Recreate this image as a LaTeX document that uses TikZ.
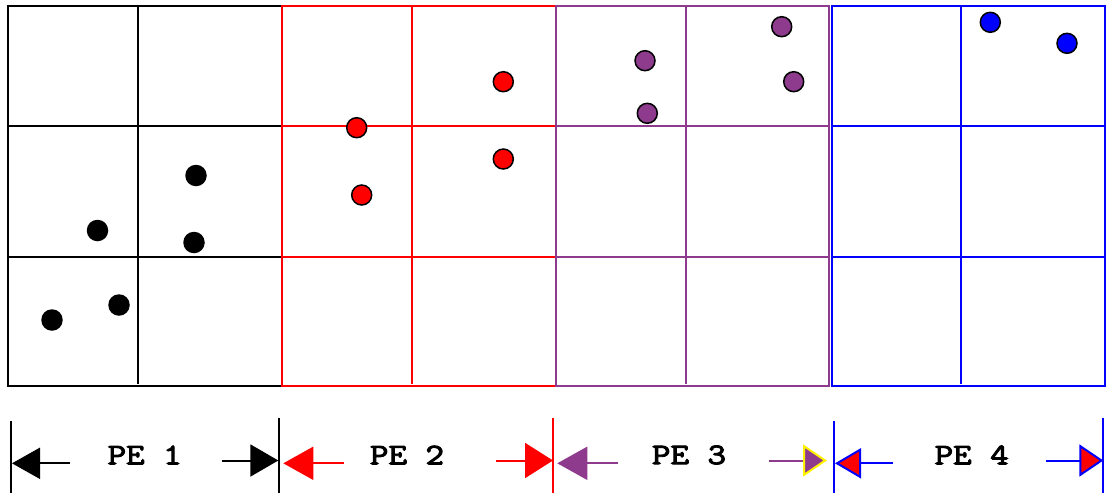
\documentclass[tikz,border=0pt]{standalone}
\usepackage{fontspec}
\newfontfamily\pefont[FakeBold=3]{Latin Modern Mono}
\usetikzlibrary{arrows.meta}
\definecolor{purp}{RGB}{142,59,142}
\newcommand{\pelab}[1]{\scalebox{1.2}[1]{#1}}
\begin{document}
\begin{tikzpicture}[x=1pt,y=-1pt,
  gridline/.style={line width=2pt},
  dot/.style={circle,inner sep=0pt,minimum size=20pt,draw=black,line width=1.5pt},
  bdot/.style={circle,inner sep=0pt,minimum size=21.5pt,fill=black},
  tick/.style={line width=2pt},
  dimline/.style={line width=2pt},
  pelabel/.style={font=\fontsize{30}{30}\selectfont\pefont,inner sep=0pt}]
\useasboundingbox (0,0) rectangle (1108,493);

% PE 1 grid (black)
\begin{scope}[gridline,black]
\draw (8,5.5) rectangle (282,386);
\draw (8,126) -- (282,126);
\draw (8,257) -- (282,257);
\draw (138,5.5) -- (138,384);
\end{scope}
% PE 2 grid (red)
\begin{scope}[gridline,red]
\draw (282,5.5) rectangle (555.5,386);
\draw (282,126) -- (555.5,126);
\draw (282,257) -- (555.5,257);
\draw (412,5.5) -- (412,384);
\end{scope}
% PE 3 grid (purple)
\begin{scope}[gridline,purp]
\draw (555.5,5.5) rectangle (829,386);
\draw (555.5,126) -- (829,126);
\draw (555.5,257) -- (829,257);
\draw (685.5,5.5) -- (685.5,384);
\end{scope}
% PE 4 grid (blue)
\begin{scope}[gridline,blue]
\draw (831.5,5.5) rectangle (1104.5,386);
\draw (831.5,126) -- (1104.5,126);
\draw (831.5,257) -- (1104.5,257);
\draw (961,5.5) -- (961,384);
\end{scope}

% particles
\node[bdot] (k1) at (196,175.5) {};
\node[bdot] (k2) at (97.5,230.5) {};
\node[bdot] (k3) at (194,242.5) {};
\node[bdot] (k4) at (119,305) {};
\node[bdot] (k5) at (52,320) {};

\node[dot,fill=red] (r1) at (356.7,127.7) {};
\node[dot,fill=red] (r2) at (361.7,195) {};
\node[dot,fill=red] (r3) at (503.3,159) {};
\node[dot,fill=red] (r4) at (503.3,81.7) {};

\node[dot,fill=purp] (p1) at (645,60.7) {};
\node[dot,fill=purp] (p2) at (647.3,113.3) {};
\node[dot,fill=purp] (p3) at (781.7,26.7) {};
\node[dot,fill=purp] (p4) at (793.7,81.7) {};

\node[dot,fill=blue] (b1) at (990.3,22.3) {};
\node[dot,fill=blue] (b2) at (1067,43.3) {};

% ticks
\coordinate (t0a) at (11,421);   \coordinate (t0b) at (11,493);
\coordinate (t1a) at (279.3,418); \coordinate (t1b) at (279.3,493);
\coordinate (t2a) at (553.3,418); \coordinate (t2b) at (553.3,493);
\coordinate (t3a) at (834,421);  \coordinate (t3b) at (834,493);
\coordinate (t4a) at (1103.3,418); \coordinate (t4b) at (1103.3,493);
\draw[tick,black] (t0a) -- (t0b);
\draw[tick,black] (t1a) -- (t1b);
\draw[tick,red] (t2a) -- (t2b);
\draw[tick,blue] (t3a) -- (t3b);
\draw[tick,blue] (t4a) -- (t4b);

% labels
\node[pelabel] (pe1) at (144.7,455) {\pelab{PE 1}};
\node[pelabel] (pe2) at (407,455) {\pelab{PE 2}};
\node[pelabel] (pe3) at (689,455) {\pelab{PE 3}};
\node[pelabel] (pe4) at (971.7,455) {\pelab{PE 4}};

% dimension arrows
\coordinate (a1s) at (70,463.3);    \coordinate (a1e) at (12,463.3);
\coordinate (a2s) at (221.7,460.5); \coordinate (a2e) at (278.3,460.5);
\coordinate (a3s) at (344,463.3);   \coordinate (a3e) at (283.3,463.3);
\coordinate (a4s) at (496,460.5);   \coordinate (a4e) at (553,460.5);
\coordinate (a5s) at (617.7,463.3); \coordinate (a5e) at (557.3,463.3);
\coordinate (a6s) at (769.3,460.5); \coordinate (a6e) at (827,460.5);
\coordinate (a7s) at (893.3,463.3); \coordinate (a7e) at (835,463.3);
\coordinate (a8s) at (1046,460.5);  \coordinate (a8e) at (1103.3,460.5);

\draw[dimline,black,-{Triangle[length=28pt,width=31pt]}] (a1s) -- (a1e);
\draw[dimline,black,-{Triangle[length=28pt,width=32pt]}] (a2s) -- (a2e);
\draw[dimline,red,-{Triangle[length=30pt,width=33pt]}] (a3s) -- (a3e);
\draw[dimline,red,-{Triangle[length=28pt,width=35pt]}] (a4s) -- (a4e);
\draw[dimline,purp,-{Triangle[length=30pt,width=33pt]}] (a5s) -- (a5e);
\draw[dimline,purp,-{Triangle[length=24pt,width=32pt,fill=purp,color=yellow,line width=2pt]}] (a6s) -- (a6e);
\draw[dimline,blue,-{Triangle[length=26pt,width=30pt,fill=red,color=blue,line width=2pt]}] (a7s) -- (a7e);
\draw[dimline,blue,-{Triangle[length=24pt,width=32pt,fill=red,color=blue,line width=2pt]}] (a8s) -- (a8e);
\end{tikzpicture}
\end{document}
